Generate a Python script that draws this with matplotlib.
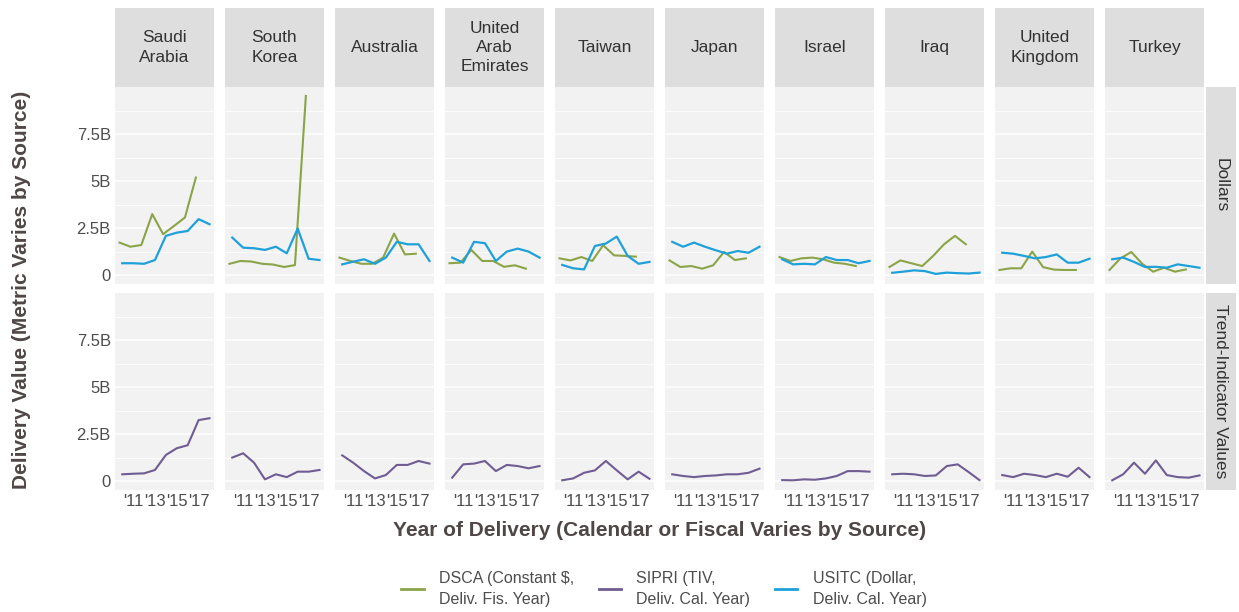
import numpy as np
import matplotlib.pyplot as plt
from matplotlib.lines import Line2D

plt.rcParams['font.family'] = ['Liberation Sans', 'DejaVu Sans']

countries = ['Saudi\nArabia', 'South\nKorea', 'Australia', 'United\nArab\nEmirates',
             'Taiwan', 'Japan', 'Israel', 'Iraq', 'United\nKingdom', 'Turkey']

cal_years = np.arange(2010, 2019)      # USITC and SIPRI, calendar years
fis_years = np.arange(2010, 2018)      # DSCA, fiscal years
fiscal_shift = 0.25                    # fiscal year starts a quarter early

# delivery values in billions
dsca = [
    [1.73, 1.51, 1.60, 3.25, 2.18, 2.62, 3.07, 5.20],
    [0.60, 0.75, 0.72, 0.60, 0.56, 0.43, 0.53, 9.55],
    [0.93, 0.75, 0.60, 0.60, 0.93, 2.21, 1.10, 1.14],
    [0.63, 0.66, 1.34, 0.75, 0.75, 0.44, 0.52, 0.34],
    [0.89, 0.78, 0.96, 0.75, 1.59, 1.05, 1.02, 0.98],
    [0.78, 0.43, 0.48, 0.34, 0.52, 1.23, 0.80, 0.89],
    [0.96, 0.75, 0.89, 0.93, 0.84, 0.66, 0.60, 0.48],
    [0.43, 0.78, 0.63, 0.48, 1.02, 1.64, 2.09, 1.64],
    [0.27, 0.36, 0.36, 1.25, 0.42, 0.29, 0.27, 0.27],
    [0.27, 0.89, 1.23, 0.60, 0.18, 0.39, 0.18, 0.30],
]

usitc = [
    [0.63, 0.63, 0.60, 0.80, 2.09, 2.26, 2.35, 2.98, 2.71],
    [2.00, 1.46, 1.43, 1.34, 1.51, 1.16, 2.48, 0.87, 0.80],
    [0.57, 0.71, 0.84, 0.60, 0.93, 1.77, 1.64, 1.64, 0.75],
    [0.93, 0.66, 1.77, 1.70, 0.75, 1.25, 1.41, 1.25, 0.93],
    [0.54, 0.36, 0.30, 1.55, 1.68, 2.05, 1.02, 0.60, 0.70],
    [1.77, 1.51, 1.73, 1.51, 1.32, 1.14, 1.28, 1.19, 1.51],
    [0.84, 0.57, 0.60, 0.57, 0.96, 0.80, 0.80, 0.63, 0.75],
    [0.12, 0.18, 0.25, 0.21, 0.06, 0.13, 0.10, 0.08, 0.13],
    [1.19, 1.14, 1.02, 0.89, 0.96, 1.10, 0.66, 0.66, 0.87],
    [0.84, 0.93, 0.70, 0.43, 0.44, 0.39, 0.57, 0.48, 0.39],
]

sipri = [
    [0.36, 0.39, 0.41, 0.59, 1.39, 1.75, 1.91, 3.25, 3.35],
    [1.25, 1.48, 0.98, 0.09, 0.36, 0.21, 0.50, 0.50, 0.59],
    [1.37, 0.98, 0.53, 0.14, 0.32, 0.86, 0.86, 1.07, 0.93],
    [0.18, 0.89, 0.93, 1.07, 0.53, 0.86, 0.80, 0.68, 0.80],
    [0.04, 0.14, 0.44, 0.57, 1.07, 0.57, 0.09, 0.50, 0.12],
    [0.36, 0.27, 0.21, 0.27, 0.30, 0.36, 0.36, 0.44, 0.66],
    [0.05, 0.04, 0.09, 0.07, 0.14, 0.27, 0.53, 0.53, 0.50],
    [0.36, 0.39, 0.36, 0.27, 0.30, 0.80, 0.89, 0.48, 0.05],
    [0.32, 0.21, 0.39, 0.32, 0.21, 0.39, 0.23, 0.71, 0.21],
    [0.04, 0.36, 0.98, 0.39, 1.10, 0.32, 0.21, 0.18, 0.30],
]

rows = ['Dollars', 'Trend-Indicator Values']
y_ticks = [0, 2.5, 5, 7.5]
y_labels = ['0', '2.5B', '5B', '7.5B']
x_ticks = [2011, 2013, 2015, 2017]
x_labels = ["'11", "'13", "'15", "'17"]

green = '#8BA448'
purple = '#6E5C93'
blue = '#1FA0D9'
panel_bg = '#F2F2F2'
strip_bg = '#DEDEDE'
text_col = '#4D4D4D'
title_col = '#4F4646'

W, H = 1239, 612
fig = plt.figure(figsize=(W / 100, H / 100), dpi=100)


def px_axes(x0, y0, x1, y1):
    # axes from pixel box (top-left origin)
    return fig.add_axes([x0 / W, 1 - y1 / H, (x1 - x0) / W, (y1 - y0) / H])


# ggplot-like 5% expansion
xmin, xmax = fis_years[0] - fiscal_shift, cal_years[-1]
xpad = 0.05 * (xmax - xmin)
ymax = max(max(max(v) for v in dsca), max(max(v) for v in usitc), max(max(v) for v in sipri))
ypad = 0.05 * ymax

row_box = [(87, 284), (293, 490)]
for r, (ty, by) in enumerate(row_box):
    for c in range(len(countries)):
        left = 115 + 110 * c
        ax = px_axes(left, ty, left + 99, by)
        ax.set_facecolor(panel_bg)
        for s in ax.spines.values():
            s.set_visible(False)
        ax.set_xlim(xmin - xpad, xmax + xpad)
        ax.set_ylim(-ypad, ymax + ypad)
        ax.set_yticks(y_ticks)
        ax.set_yticks([1.25, 3.75, 6.25, 8.75], minor=True)
        ax.set_xticks(x_ticks)
        ax.grid(axis='y', which='major', color='white', lw=1.1)
        ax.grid(axis='y', which='minor', color='white', lw=0.6)
        ax.set_axisbelow(True)
        ax.tick_params(length=0, labelsize=12, labelcolor=text_col, pad=3)
        ax.tick_params(which='minor', length=0)
        if c == 0:
            ax.set_yticklabels(y_labels)
        else:
            ax.set_yticklabels([])
        if r == 1:
            ax.set_xticklabels(x_labels)
        else:
            ax.set_xticklabels([])

        if r == 0:
            ax.plot(fis_years - fiscal_shift, dsca[c], color=green, lw=1.5)
            ax.plot(cal_years, usitc[c], color=blue, lw=1.6)
        else:
            ax.plot(cal_years, sipri[c], color=purple, lw=1.5)

    # row strip on the right
    sax = px_axes(1206, ty, 1236, by)
    sax.set_facecolor(strip_bg)
    sax.set_xticks([])
    sax.set_yticks([])
    for s in sax.spines.values():
        s.set_visible(False)
    sax.text(0.5, 0.5, rows[r], rotation=-90, ha='center', va='center',
             fontsize=12.5, color='#333333', transform=sax.transAxes)

# column strips along the top
for c, name in enumerate(countries):
    left = 115 + 110 * c
    sax = px_axes(left, 8, left + 99, 87)
    sax.set_facecolor(strip_bg)
    sax.set_xticks([])
    sax.set_yticks([])
    for s in sax.spines.values():
        s.set_visible(False)
    sax.text(0.5, 0.5, name, ha='center', va='center', fontsize=12.5,
             color='#333333', linespacing=1.35, transform=sax.transAxes)

fig.text(22 / W, 1 - 290 / H, 'Delivery Value (Metric Varies by Source)',
         rotation=90, ha='center', va='center', fontsize=15, fontweight='bold',
         color=title_col)
fig.text(660 / W, 1 - 530 / H, 'Year of Delivery (Calendar or Fiscal Varies by Source)',
         ha='center', va='center', fontsize=15, fontweight='bold', color=title_col)

handles = [Line2D([], [], color=green, lw=2),
           Line2D([], [], color=purple, lw=2),
           Line2D([], [], color=blue, lw=2)]
labels = ['DSCA (Constant $,\nDeliv. Fis. Year)',
          'SIPRI (TIV,\nDeliv. Cal. Year)',
          'USITC (Dollar,\nDeliv. Cal. Year)']
leg = fig.legend(handles, labels, loc='center', bbox_to_anchor=(664 / W, 1 - 589 / H),
                 ncol=3, frameon=False, fontsize=11.5, handlelength=1.4,
                 handletextpad=0.95, columnspacing=1.55)
for t in leg.get_texts():
    t.set_color(text_col)
    t.set_linespacing(1.45)

fig.savefig('out.png', dpi=100)
